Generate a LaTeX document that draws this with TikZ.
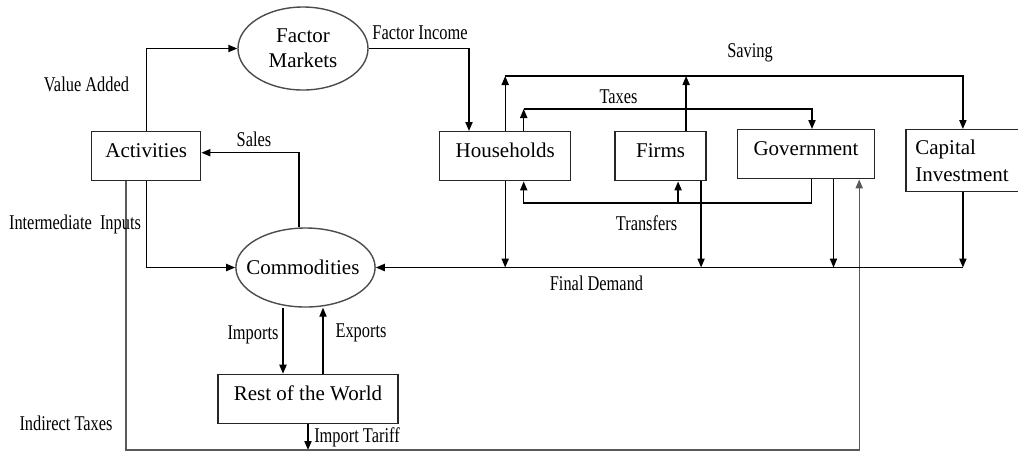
\documentclass[tikz,border=0pt]{standalone}
\usepackage{fontspec}
\setmainfont{Liberation Serif}
\newfontfamily\flowfont[FakeStretch=0.78]{Liberation Serif}
\usetikzlibrary{arrows.meta,positioning,shapes.geometric}

\begin{document}
\begin{tikzpicture}[x=0.5pt, y=-0.5pt,
    >={Triangle[length=4.5pt,width=3.6pt]},
    line width=0.7pt,
    box/.style={rectangle,draw=black!85,line width=0.7pt,font=\fontsize{10.5}{13.5}\selectfont},
    sector/.style={box,anchor=north west,inner ysep=0pt,text height=13pt,text depth=11.5pt},
    market/.style={ellipse,draw=black!70,line width=0.7pt,inner sep=0pt,align=center,font=\fontsize{10.5}{12.5}\selectfont},
    flow/.style={inner sep=0pt,font=\flowfont\fontsize{10.5}{12}\selectfont},
    taxline/.style={black!65},
   ]

    \useasboundingbox (0,0) rectangle (1018,452);

    \node (fm)   [market, minimum width=65pt, minimum height=41.5pt] at (303,48.5) { Factor\\Markets };
    \node (act)  [sector, minimum width=54.5pt] at (91,131) { Activities };
    \node (comm) [market, minimum width=67.5pt, minimum height=39.5pt, inner xsep=-5pt] at (305.5,267.5) { Commodities };
    \node (row)  [sector, minimum width=90pt, below=33pt of comm, xshift=1.25pt] { Rest of the World };

    \node (hh)    [sector, minimum width=65.5pt] at (439,131) { Households };
    \node (firms) [sector, minimum width=45.5pt, right=21.5pt of hh.north east, anchor=north west] { Firms };
    \node (gov)   [sector, minimum width=68.5pt, right=15pt of firms.north east, anchor=north west, yshift=1pt] { Government };
    \node (cap)   [box, text width=47.5pt, inner xsep=4.75pt, minimum height=31pt, align=left, right=15pt of gov.north east, anchor=north west] { Capital\\Investment };

    \coordinate (savrow) at (0,76);
    \coordinate (taxrow) at (0,109);
    \coordinate (trfrow) at (0,203);
    \coordinate (itax)   at (126,450);

    \draw[->] (act.north) |- (fm.west);
    \draw[->] (fm.east) -| ([xshift=15pt]hh.north west);
    \draw[->] ([xshift=-3.25pt]comm.north) |- ([yshift=1.75pt]act.east);
    \draw[->] (act.south) |- (comm.west);

    \draw[->] ([xshift=-12.5pt]row.north |- comm.south) -- ([xshift=-12.5pt]row.north);
    \draw[->] ([xshift=7.5pt]row.north) -- ([xshift=7.5pt]row.north |- comm.south);
    \draw[->] (row.south) -- (row.south |- itax);
    \draw[taxline,->] (itax |- act.south) -- (itax) -| ([xshift=-8pt]gov.south east);

    \draw[->] (hh.north) -- (hh.north |- savrow);
    \draw[->] ([xshift=12.75pt]firms.north) -- ([xshift=12.75pt]firms.north |- savrow);
    \draw[->] (hh.north |- savrow) -| (cap.north);

    \draw[->] ([xshift=9.25pt]hh.north) -- ([xshift=9.25pt]hh.north |- taxrow);
    \draw[->] ([xshift=9.25pt]hh.north |- taxrow) -| ([xshift=3pt]gov.north);

    \draw[->] ([xshift=2.75pt]gov.south) |- ([xshift=9.25pt]hh.south |- trfrow) -- ([xshift=9.25pt]hh.south);
    \draw[->] ([xshift=8.75pt]firms.south |- trfrow) -- ([xshift=8.75pt]firms.south);

    \draw[->] (hh.south) -- (hh.south |- comm.east);
    \draw[->] ([xshift=20.25pt]firms.south) -- ([xshift=20.25pt]firms.south |- comm.east);
    \draw[->] ([xshift=13.75pt]gov.south) -- ([xshift=13.75pt]gov.south |- comm.east);
    \draw[->] (cap.south) -- (cap.south |- comm.east);
    \draw[->] (cap.south |- comm.east) -- (comm.east);

    \node (valadd)  [flow] at (86.5,84)  { Value Added };
    \node (facinc)  [flow] at (420,33)   { Factor Income };
    \node (saving)  [flow] at (750,53)   { Saving };
    \node (taxes)   [flow] at (618.5,97) { Taxes };
    \node (transf)  [flow] at (646.5,223) { Transfers };
    \node (findem)  [flow] at (596.5,283) { Final Demand };
    \node (sales)   [flow] at (254,139)  { Sales };
    \node (inter)   [flow] at (75,224)   { Intermediate\ \ Inputs };
    \node (imports) [flow] at (253,335)  { Imports };
    \node (exports) [flow] at (361,333)  { Exports };
    \node (tariff)  [flow] at (357,437)  { Import Tariff };
    \node (indtax)  [flow] at (66,423)   { Indirect Taxes };
  \end{tikzpicture}
\end{document}
